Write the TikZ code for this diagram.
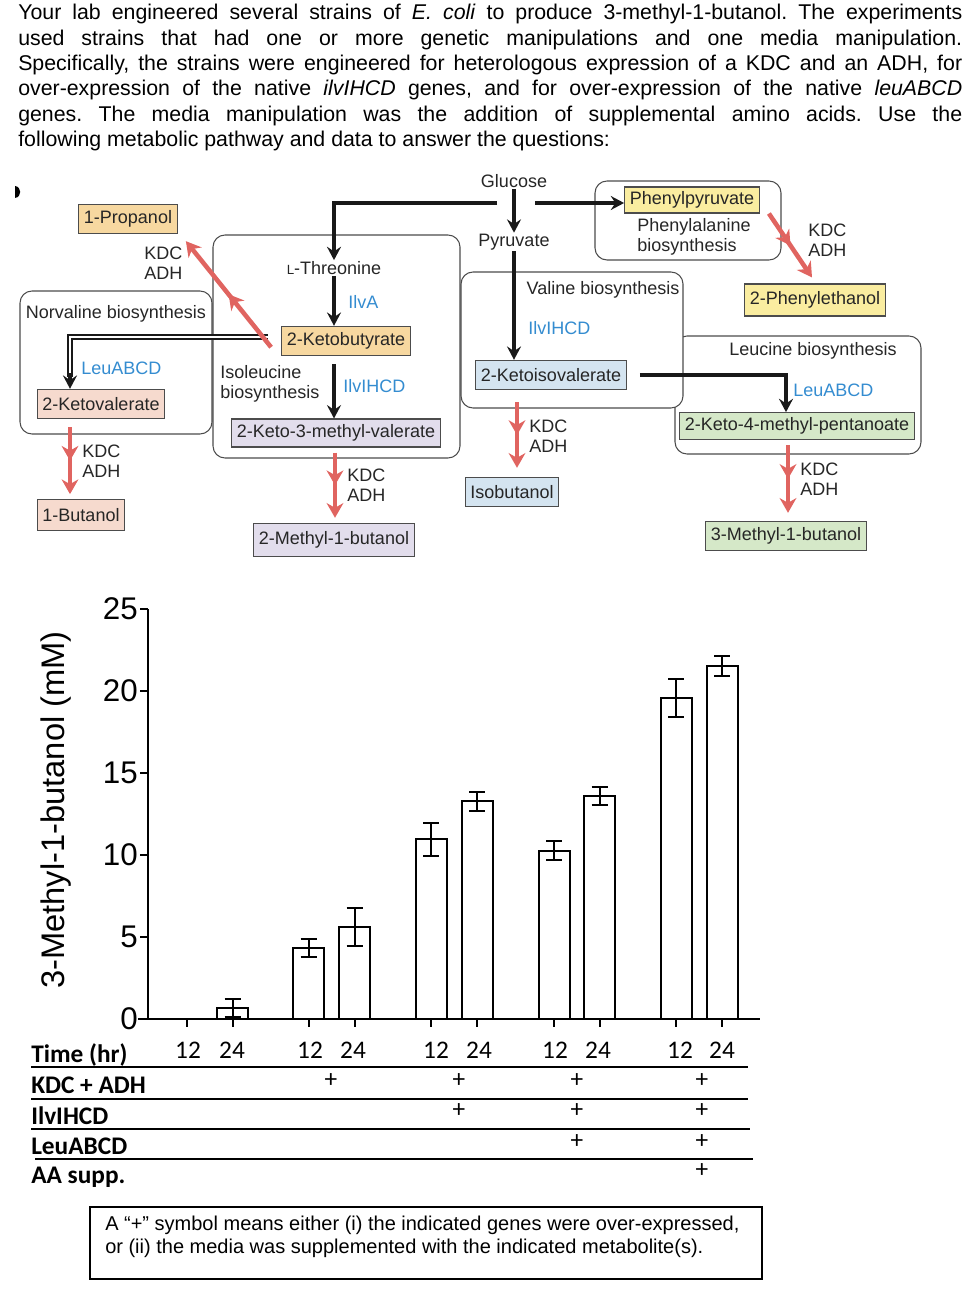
\documentclass[tikz,border=0pt]{standalone}
\usepackage{fontspec}
\setmainfont{Liberation Sans}
\newfontfamily\calibfont{Carlito}
\usetikzlibrary{arrows.meta,calc,decorations.markings}
\definecolor{arrred}{RGB}{224,100,96}
\definecolor{geneblue}{RGB}{52,140,208}
\definecolor{boxyel}{RGB}{250,237,160}
\definecolor{boxorg}{RGB}{247,216,160}
\definecolor{boxpnk}{RGB}{246,218,206}
\definecolor{boxlav}{RGB}{226,221,236}
\definecolor{boxblu}{RGB}{212,228,240}
\definecolor{boxgrn}{RGB}{213,232,200}
\newcommand{\pathfont}{\fontsize{13.5}{15}\selectfont}
\newcommand{\tickfont}{\fontsize{23.5}{26}\selectfont}
\newcommand{\tabfont}{\calibfont\fontsize{19}{22}\selectfont}
\frenchspacing

\begin{document}
\begin{tikzpicture}[x=0.75pt,y=0.75pt,yscale=-1,xscale=1,
    every node/.style={inner sep=0.75pt},
    lbl/.style={font=\pathfont, text=black!85},
    gene/.style={font=\pathfont, text=geneblue, anchor=west},
    enz/.style={font=\pathfont, text=black!85, anchor=west, align=left},
    met/.style={draw=black!70, line width=0.8pt, inner xsep=4pt, minimum height=22pt, font=\pathfont, text=black!85},
    panel/.style={draw=black!70, line width=0.8pt, rounded corners=9pt},
    blkarr/.style={draw=black!90, line width=2.4pt, -{Stealth[length=10pt,width=10.5pt,inset=3.5pt]}},
    dblline/.style={draw=black!90, line width=1.2pt, double=white, double distance=1.9pt},
    redarr/.style={draw=arrred, line width=3.4pt, -{Stealth[length=11pt,width=12.5pt,inset=3.5pt]},
        postaction={decorate}, decoration={markings, mark=at position 0.5 with {\arrow{Stealth[length=11pt,width=12.5pt,inset=3.5pt]}}}},
    chart/.style={line width=1.5pt},
    rowlbl/.style={font=\tabfont\bfseries, anchor=west},
    tnum/.style={font=\tabfont},
    ]
    \useasboundingbox (0,0) rectangle (980,1308);

    % Text Node
    \node [anchor=north west, inner sep=0pt, text width=708pt, align=justify, font=\fontsize{16}{19}\selectfont] (intro) at (18,4) {Your lab engineered several strains of \textit{E. coli} to produce 3-methyl-1-butanol. The experiments\linebreak used strains that had one or more genetic manipulations and one media manipulation.\linebreak Specifically, the strains were engineered for heterologous expression of a KDC and an ADH, for\linebreak over-expression of the native \textit{ilvIHCD} genes, and for over-expression of the native \textit{leuABCD}\linebreak genes. The media manipulation was the addition of supplemental amino acids. Use the\linebreak following metabolic pathway and data to answer the questions:};

    %Shape: cut-off mark
    \fill (15,186) .. controls (22,187) and (22,197) .. (15,198) -- cycle;

    %Shape: pathway panels
    \draw [panel] (20,291) rectangle (212,434);
    \draw [panel] (213,235) rectangle (460,458);
    \draw [panel] (675,336) rectangle (921,454);
    \draw [panel, fill=white] (461,272) rectangle (683,408);
    \draw [panel] (595,181) rectangle (781,260);

    % Text Node
    \node [lbl] (glc) at (514,181) {Glucose};
    \node [lbl] (pyr) at (514,242) {Pyruvate};
    \node [lbl] (thr) at (334,268) {{\fontsize{10}{12}\selectfont L}-Threonine};
    \node [lbl] (nvbio) at (116,314) {Norvaline biosynthesis};
    \node [lbl, anchor=west, align=left] (ilebio) at (219,384) {Isoleucine\\biosynthesis};
    \node [lbl] (valbio) at (603,290) {Valine biosynthesis};
    \node [lbl] (leubio) at (813,351) {Leucine biosynthesis};
    \node [lbl, align=left] (phebio) at (694,237) {Phenylalanine\\biosynthesis};

    % Metabolite boxes
    \node [met, fill=boxyel, minimum height=19.5pt] (ppy) at (692,200) {Phenylpyruvate};
    \node [met, fill=boxyel, minimum height=24pt] (pet) at (815,300) {2-Phenylethanol};
    \node [met, fill=boxorg] (prop) at (128,219) {1-Propanol};
    \node [met, fill=boxorg] (kbut) at (346,341) {2-Ketobutyrate};
    \node [met, fill=boxpnk] (kval) at (101,404) {2-Ketovalerate};
    \node [met, fill=boxpnk, minimum height=23pt] (but) at (81,515) {1-Butanol};
    \node [met, fill=boxlav, minimum height=21pt] (kmv) at (336,433) {2-Keto-3-methyl-valerate};
    \node [met, fill=boxlav, minimum height=25pt] (mbut2) at (334,540) {2-Methyl-1-butanol};
    \node [met, fill=boxblu] (kiv) at (551,375) {2-Ketoisovalerate};
    \node [met, fill=boxblu] (ibut) at (512,492) {Isobutanol};
    \node [met, fill=boxgrn, minimum height=20pt] (kmp) at (797,426) {2-Keto-4-methyl-pentanoate};
    \node [met, fill=boxgrn] (mbut3) at (786,536) {3-Methyl-1-butanol};

    % Gene labels
    \node [gene] (gilva) at (347,302) {IlvA};
    \node [gene] (gilvile) at (342,386) {IlvIHCD};
    \node [gene] (gilvval) at (527,328) {IlvIHCD};
    \node [gene] (gleunv) at (80,368) {LeuABCD};
    \node [gene] (gleuleu) at (792,390) {LeuABCD};

    % KDC ADH labels
    \node [enz] (kaprop) at (143,263) {KDC\\ADH};
    \node [enz] (kaphe) at (807,240) {KDC\\ADH};
    \node [enz] (kabut) at (81,461) {KDC\\ADH};
    \node [enz] (kamb2) at (346,485) {KDC\\ADH};
    \node [enz] (kaiso) at (528,436) {KDC\\ADH};
    \node [enz] (kamb3) at (799,479) {KDC\\ADH};

    % Black connectors
    \coordinate (glL) at (497,203);
    \coordinate (glR) at (535,203);
    \coordinate (nvturn) at (70,337);
    \draw [blkarr] (glL) -| (thr.north);
    \draw [blkarr] (glR) -- (glR -| ppy.west);
    \draw [blkarr] (glc) -- (pyr);
    \draw [blkarr] (thr.south) -- (thr.south |- kbut.north);
    \draw [blkarr] ($(thr.south |- kbut.south)+(0,8)$) -- (thr.south |- kmv.north);
    \draw [blkarr] (pyr.south) -- (pyr.south |- kiv.north);
    \draw [blkarr] ($(kiv.east)+(13,0)$) -| ($(kmp.north)+(-11,0)$);
    \draw [dblline] ($(kbut.west)+(-13,-4)$) -- (nvturn) -- ($(kval.north -| nvturn)+(0,-12)$);
    \draw [blkarr] ($(kval.north -| nvturn)+(0,-16)$) -- (kval.north -| nvturn);

    % Red KDC/ADH connectors
    \draw [redarr] ($(kbut.south west)+(-10,-9)$) -- ($(prop.south east)+(8,7)$);
    \draw [redarr] ($(ppy.south east)+(9,0)$) -- ($(pet.north)+(-3,-6)$);
    \draw [redarr] ($(kval.south -| nvturn)+(0,8)$) -- ($(but.north -| nvturn)+(0,-5)$);
    \draw [redarr] ($(kmv.south)+(-1,5)$) -- ($(kmv.south |- mbut2.north)+(-1,-5)$);
    \draw [redarr] ($(ibut.north |- kiv.south)+(5,12)$) -- ($(ibut.north)+(5,-9)$);
    \draw [redarr] ($(mbut3.north |- kmp.south)+(2,5)$) -- ($(mbut3.north)+(2,-8)$);

    %Shape: Bar chart
    \begin{scope}[shift={(0,1019)}, yscale=-16.4]
    \draw [chart] (148,0) -- (148,25);
    \draw [chart] (138,0) -- (760,0);
    \draw [chart] (140,5) -- (148,5) (140,10) -- (148,10) (140,15) -- (148,15) (140,20) -- (148,20) (140,25) -- (148,25);
    \draw [chart] (187,0) -- (187,-0.5) (232.5,0) -- (232.5,-0.5) (308.5,0) -- (308.5,-0.5) (354.5,0) -- (354.5,-0.5) (431,0) -- (431,-0.5) (477,0) -- (477,-0.5) (554,0) -- (554,-0.5) (599.5,0) -- (599.5,-0.5) (676,0) -- (676,-0.5) (722,0) -- (722,-0.5);
    \node [anchor=east, font=\tickfont] (yt0) at (139,0) {0};
    \node [anchor=east, font=\tickfont] (yt5) at (139,5) {5};
    \node [anchor=east, font=\tickfont] (yt10) at (139,10) {10};
    \node [anchor=east, font=\tickfont] (yt15) at (139,15) {15};
    \node [anchor=east, font=\tickfont] (yt20) at (139,20) {20};
    \node [anchor=east, font=\tickfont] (yt25) at (139,25) {25};
    % bars with error bars
    \draw [chart] (217,0) rectangle (248,0.69) (232.5,0.14) -- (232.5,1.24) (224.5,0.14) -- (240.5,0.14) (224.5,1.24) -- (240.5,1.24);
    \draw [chart] (293,0) rectangle (324,4.33) (308.5,3.78) -- (308.5,4.88) (300.5,3.78) -- (316.5,3.78) (300.5,4.88) -- (316.5,4.88);
    \draw [chart] (339,0) rectangle (370,5.63) (354.5,4.48) -- (354.5,6.78) (346.5,4.48) -- (362.5,4.48) (346.5,6.78) -- (362.5,6.78);
    \draw [chart] (415.5,0) rectangle (446.5,10.96) (431,9.97) -- (431,11.95) (423,9.97) -- (439,9.97) (423,11.95) -- (439,11.95);
    \draw [chart] (461.5,0) rectangle (492.5,13.27) (477,12.7) -- (477,13.84) (469,12.7) -- (485,12.7) (469,13.84) -- (485,13.84);
    \draw [chart] (538.5,0) rectangle (569.5,10.26) (554,9.67) -- (554,10.85) (546,9.67) -- (562,9.67) (546,10.85) -- (562,10.85);
    \draw [chart] (584,0) rectangle (615,13.6) (599.5,13.03) -- (599.5,14.17) (591.5,13.03) -- (607.5,13.03) (591.5,14.17) -- (607.5,14.17);
    \draw [chart] (660.5,0) rectangle (691.5,19.55) (676,18.39) -- (676,20.71) (668,18.39) -- (684,18.39) (668,20.71) -- (684,20.71);
    \draw [chart] (706.5,0) rectangle (737.5,21.52) (722,20.93) -- (722,22.11) (714,20.93) -- (730,20.93) (714,22.11) -- (730,22.11);
    \end{scope}
    % Text Node
    \node [rotate=90, font=\fontsize{24.5}{28}\selectfont] (ylab) at (56,810) {3-Methyl-1-butanol (mM)};

    %Shape: Table rules
    \draw [line width=1.1pt] (31,1067) -- (748,1067) (31,1099) -- (748,1099) (31,1129) -- (750,1129) (35,1159) -- (753,1159);
    % Text Node
    \node [rowlbl] (rtime) at (30,1055) {Time (hr)};
    \node [rowlbl] (rkdc) at (30,1085) {KDC + ADH};
    \node [rowlbl] (rilv) at (30,1116) {IlvIHCD};
    \node [rowlbl] (rleu) at (30,1146) {LeuABCD};
    \node [rowlbl] (raa) at (30,1177) {AA supp.};
    \node [tnum] (t1a) at (188,1050) {12};
    \node [tnum] (t1b) at (232,1050) {24};
    \node [tnum] (t2a) at (310,1050) {12};
    \node [tnum] (t2b) at (353,1050) {24};
    \node [tnum] (t3a) at (436,1050) {12};
    \node [tnum] (t3b) at (479,1050) {24};
    \node [tnum] (t4a) at (555,1050) {12};
    \node [tnum] (t4b) at (598,1050) {24};
    \node [tnum] (t5a) at (680,1050) {12};
    \node [tnum] (t5b) at (722,1050) {24};
    \node [tnum] (p12) at (331,1081) {+};
    \node [tnum] (p13) at (459,1081) {+};
    \node [tnum] (p14) at (577,1081) {+};
    \node [tnum] (p15) at (702,1081) {+};
    \node [tnum] (p23) at (459,1111) {+};
    \node [tnum] (p24) at (577,1111) {+};
    \node [tnum] (p25) at (702,1111) {+};
    \node [tnum] (p34) at (577,1142) {+};
    \node [tnum] (p35) at (702,1142) {+};
    \node [tnum] (p45) at (702,1171) {+};

    %Shape: Note box
    \draw [line width=1.1pt] (90,1207) rectangle (762,1279);
    % Text Node
    \node [anchor=north west, align=left, font=\fontsize{15}{17.3}\selectfont] (note) at (104,1215) {A “+” symbol means either (i) the indicated genes were over-expressed,\\or (ii) the media was supplemented with the indicated metabolite(s).};

\end{tikzpicture}
\end{document}
